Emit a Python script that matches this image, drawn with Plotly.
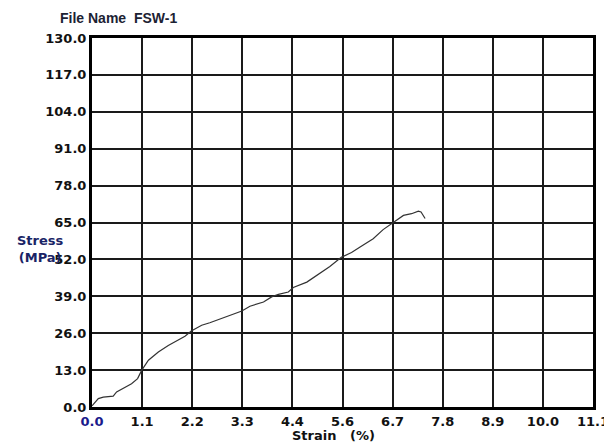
import plotly.graph_objects as go

strain = [0, 0.14, 0.25, 0.47, 0.545, 0.73, 0.876, 1.01, 1.10, 1.25, 1.47, 1.69, 1.91,
          2.06, 2.20, 2.43, 2.61, 2.84, 3.06, 3.32, 3.50, 3.80, 3.98, 4.13, 4.35, 4.46,
          4.76, 5.05, 5.27, 5.53, 5.75, 5.94, 6.23, 6.45, 6.64, 6.75, 6.90, 7.08, 7.23,
          7.29, 7.38]
stress = [0.4, 2.96, 3.5, 3.8, 5.3, 6.8, 8.2, 10.0, 12.9, 16.5, 19.4, 21.7, 23.5,
          24.9, 26.8, 28.8, 29.7, 31.1, 32.3, 33.8, 35.5, 37.0, 38.8, 39.7, 40.5, 42.1,
          44.0, 47.0, 49.5, 52.8, 54.4, 56.4, 59.3, 62.5, 64.6, 66.0, 67.5, 68.1, 69.0,
          68.7, 66.4]

x_tick_vals = [i * 1.11 for i in range(11)]
x_tick_text = ['<span style="color:#1a1a8c">0.0</span>', "1.1", "2.2", "3.3", "4.4",
               "5.6", "6.7", "7.8", "8.9", "10.0", "11.1"]
y_tick_vals = [i * 13 for i in range(11)]
y_tick_text = ["0.0", "13.0", "26.0", "39.0", "52.0", "65.0", "78.0", "91.0",
               "104.0", "117.0", "130.0"]

# page offset from the default body margin
OFF = 8
W, H = 612 - OFF, 448 - OFF
# plot area in page pixels: left 92, right 593, top 38, bottom 407
L = 92 - OFF
T = 38 - OFF
R = W - (593 - OFF)
B = H - (407 - OFF)
pw, ph = W - L - R, H - T - B

def px(x):
    return (x - OFF - L) / pw

def py(y):
    return (H - B - (y - OFF)) / ph

tickfont = dict(family="DejaVu Sans", size=13, color="#111111")

fig = go.Figure()
fig.add_trace(go.Scatter(x=strain, y=stress, mode="lines",
                         line=dict(color="#333333", width=1.2),
                         showlegend=False, hoverinfo="skip"))

fig.update_layout(
    width=W, height=H,
    margin=dict(l=L, r=R, t=T, b=B, pad=0),
    paper_bgcolor="white", plot_bgcolor="white",
    font=dict(family="DejaVu Sans", size=13, color="#111111"),
    xaxis=dict(range=[0, 11.1], tickvals=x_tick_vals,
               ticktext=["<b>" + t + "</b>" for t in x_tick_text],
               showgrid=True, gridcolor="#1a1a1a", gridwidth=1.8,
               showline=True, linecolor="#000000", linewidth=3, mirror=True,
               zeroline=False, ticks="", tickfont=tickfont, fixedrange=True,
               automargin=False),
    yaxis=dict(range=[0, 130], tickvals=y_tick_vals,
               ticktext=["<b>" + t + "</b>" for t in y_tick_text],
               showgrid=True, gridcolor="#1a1a1a", gridwidth=1.8,
               showline=True, linecolor="#000000", linewidth=3, mirror=True,
               zeroline=False, ticks="", tickfont=tickfont, fixedrange=True,
               automargin=False),
    annotations=[
        dict(text="<b>File Name  FSW-1</b>", xref="paper", yref="paper",
             x=px(58), y=py(18), xanchor="left", yanchor="middle", showarrow=False,
             font=dict(family="Liberation Sans", size=14, color="#1c2233")),
        dict(text="<b>Stress</b><br><b>(MPa)</b>", xref="paper", yref="paper",
             x=px(40), y=py(249), xanchor="center", yanchor="middle", showarrow=False,
             align="center",
             font=dict(family="DejaVu Sans", size=13, color="#1a2466")),
        dict(text="<b>Strain   (%)</b>", xref="paper", yref="paper",
             x=px(333), y=py(435), xanchor="center", yanchor="middle", showarrow=False,
             font=dict(family="DejaVu Sans", size=13, color="#111111")),
    ],
)

fig.write_html("out.html")
